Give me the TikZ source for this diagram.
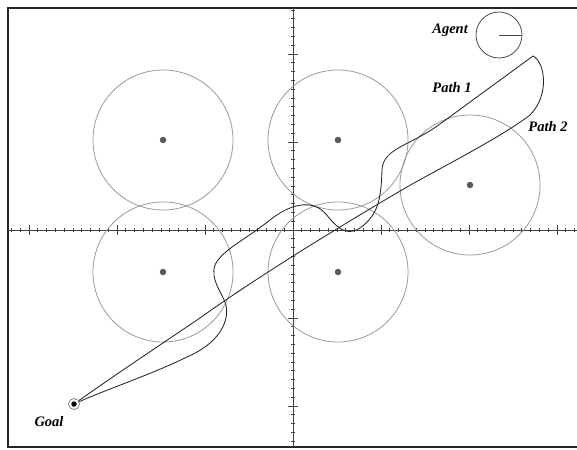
\documentclass[tikz,border=0pt]{standalone}
\usepackage{fontspec}
\newfontfamily\lblfont{Liberation Serif}
\begin{document}
\begin{tikzpicture}[x=1pt,y=-1pt,
  frame/.style={draw=black!85,line width=1.1pt},
  axis/.style={draw=black!75,line width=0.9pt},
  tick/.style={draw=black!75,line width=0.7pt},
  obst/.style={draw=black!40,line width=0.8pt},
  ctr/.style={circle,fill=black!65,inner sep=0pt,minimum size=6.5pt},
  pathline/.style={draw=black!85,line width=0.85pt},
  lbl/.style={font=\lblfont\bfseries\itshape\fontsize{14.5}{16}\selectfont,inner sep=0pt}]
\useasboundingbox (0,0) rectangle (577,449);
% frame
\draw[frame] (577,8) -- (8,8) -- (8,447) -- (577,447);
% axes
\draw[axis] (8,230) -- (577,230);
\draw[axis] (293,8) -- (293,447);
\foreach \k in {-32,...,32}{\draw[tick] ({293+\k*8.8},228) -- ({293+\k*8.8},232);}
\foreach \k in {-30,-20,...,30}{\draw[tick] ({293+\k*8.8},225) -- ({293+\k*8.8},235);}
\foreach \k in {-25,...,24}{\draw[tick] (291,{230+\k*8.8}) -- (295,{230+\k*8.8});}
\foreach \k in {-20,-10,...,20}{\draw[tick] (288,{230+\k*8.8}) -- (298,{230+\k*8.8});}
% obstacles
\foreach \n/\cx/\cy in {o1/163/140,o2/338/140,o3/470/185,o4/163/272,o5/338/272}{
  \draw[obst] (\cx,\cy) circle[radius=70pt];
  \node[ctr] (\n) at (\cx,\cy) {};
}
% agent
\node[draw=black!70,line width=0.8pt,circle,minimum size=46pt,inner sep=0pt] (agent) at (499,35) {};
\draw[draw=black!70,line width=0.8pt] (agent.center) -- (agent.east);
\node[lbl,anchor=east] (agentlbl) at (468,30) {Agent};
% goal
\node[circle,draw=black!55,line width=0.7pt,minimum size=11pt,inner sep=0pt] (goal) at (74,404) {};
\node[circle,fill=black,minimum size=5.5pt,inner sep=0pt] (goaldot) at (74,404) {};
\node[lbl] (goallbl) at (49,422) {Goal};
% start
\coordinate (start) at (533,56);
% Path 1 (wiggly)
\draw[pathline] (start) -- (440,124)
 .. controls (410,146) and (383,148) .. (382,170)
 .. controls (381,200) and (378,215) .. (360,228)
 .. controls (345,238) and (335,225) .. (325,213)
 .. controls (315,202) and (295,200) .. (270,220)
 .. controls (245,240) and (222,250) .. (215,265)
 .. controls (210,280) and (222,292) .. (226,305)
 .. controls (230,325) and (215,345) .. (187,357)
 .. controls (150,375) and (110,388) .. (goal);
% Path 2
\draw[pathline] (start) .. controls (545,62) and (550,95) .. (530,115)
 .. controls (500,138) and (440,168) .. (407,187)
 .. controls (330,232) and (250,282) .. (200,318)
 .. controls (160,345) and (115,375) .. (goal);
\node[lbl] (p1) at (452,88) {Path 1};
\node[lbl] (p2) at (548,127) {Path 2};
\end{tikzpicture}
\end{document}
